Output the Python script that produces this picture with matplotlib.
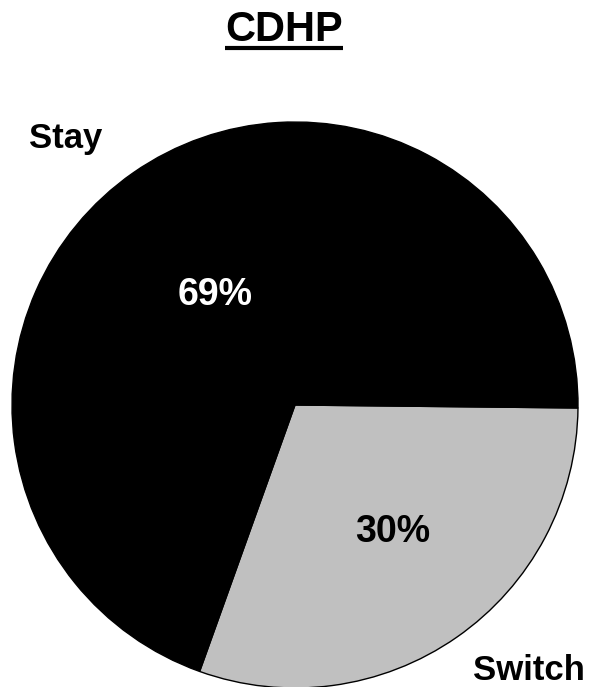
import matplotlib
matplotlib.use("Agg")
import matplotlib.pyplot as plt
from matplotlib.lines import Line2D

plt.rcParams['font.family'] = ['Liberation Sans', 'DejaVu Sans']

title = "CDHP"
labels = ["Switch", "Stay"]
values = [30, 69]
colors = ["#c0c0c0", "#000000"]
pct_colors = ["black", "white"]

fig = plt.figure(figsize=(5.89, 6.87), dpi=100)
ax = fig.add_axes([0, 0, 1, 1])

wedges, _ = ax.pie(values, colors=colors, startangle=-0.6, counterclock=False,
                   radius=1.0, wedgeprops=dict(edgecolor="black", linewidth=1.0))

# keep pie radius at 283 px, centre at (295, 405) px
ax.set_xlim(-295 / 283, 294 / 283)
ax.set_ylim((405 - 687) / 283, 405 / 283)
ax.set_aspect("equal")
ax.axis("off")

# category names outside the pie
name_pos = {"Stay": (-0.812, 0.908), "Switch": (0.825, -0.972)}
# percentages inside the slices
pct_pos = {"Stay": (-0.283, 0.353), "Switch": (0.346, -0.484)}

for lab, val, pc in zip(labels, values, pct_colors):
    x, y = name_pos[lab]
    ax.text(x, y, lab, ha="center", va="baseline", fontsize=25,
            fontweight="bold", color="black")
    x, y = pct_pos[lab]
    ax.text(x, y, f"{val}%", ha="center", va="baseline", fontsize=27,
            fontweight="bold", color=pc)

t = fig.text(284 / 589, 1 - 41 / 687, title, ha="center", va="baseline",
             fontsize=30, fontweight="bold")

# underline the title
fig.canvas.draw()
bb = t.get_window_extent(renderer=fig.canvas.get_renderer())
bb = bb.transformed(fig.transFigure.inverted())
uy = 1 - 48 / 687
fig.add_artist(Line2D([bb.x0, bb.x1], [uy, uy], transform=fig.transFigure,
                      color="black", linewidth=3.0, solid_capstyle="butt"))

fig.savefig("out.png", dpi=100)
